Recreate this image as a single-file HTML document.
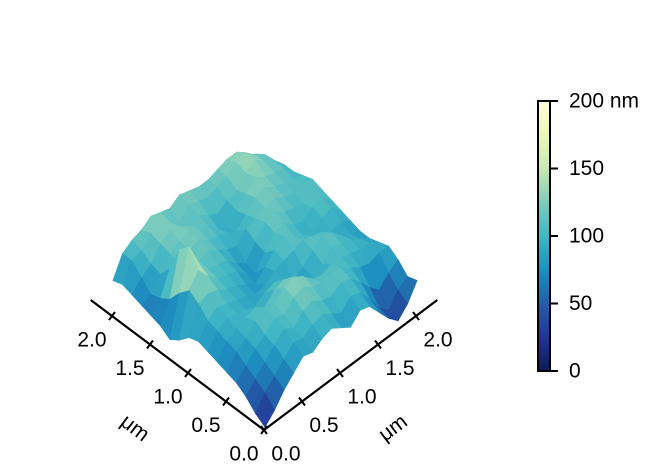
<!DOCTYPE html>
<html><head><meta charset="utf-8"><style>
html,body{margin:0;padding:0;background:#fff;}
svg{display:block;font-family:"Liberation Sans",sans-serif;}
</style></head><body>
<svg id="chart" width="663" height="472" viewBox="0 0 663 472">
<defs>
<linearGradient id="cbar" x1="0" y1="1" x2="0" y2="0">
<stop offset="0" stop-color="#081d58"/><stop offset="0.125" stop-color="#253494"/>
<stop offset="0.25" stop-color="#225ea8"/><stop offset="0.375" stop-color="#1d91c0"/>
<stop offset="0.5" stop-color="#41b6c4"/><stop offset="0.625" stop-color="#7fcdbb"/>
<stop offset="0.75" stop-color="#c7e9b4"/><stop offset="0.875" stop-color="#edf8b1"/>
<stop offset="1" stop-color="#ffffd9"/></linearGradient>
</defs>
<g id="surface"></g>
<g id="axes"></g>
<g>
<rect x="538" y="101" width="12" height="270" fill="url(#cbar)" stroke="#000" stroke-width="2"/>
<g id="cbticks"></g>
</g>
</svg>
<script>
const heights = [
[20,35,55,70,85,80,90,95,85,75,90,85,65,45,30,45,70],
[30,50,65,80,95,90,100,105,95,85,100,95,75,50,35,55,65],
[45,60,75,90,105,95,110,115,105,100,110,105,90,70,55,70,80],
[55,70,85,95,110,105,120,125,115,110,115,110,100,90,85,90,90],
[60,80,90,105,115,110,125,130,120,105,100,105,105,100,95,95,85],
[65,85,95,100,105,95,110,115,105,90,85,95,110,105,100,90,80],
[70,90,100,95,90,85,95,100,90,80,90,105,115,110,95,85,80],
[75,95,105,100,95,90,80,85,95,100,105,110,105,100,90,95,85],
[70,110,115,110,100,95,85,75,90,105,115,105,95,90,100,105,90],
[55,120,140,120,105,100,95,80,70,90,110,115,100,95,105,110,95],
[45,105,165,130,110,105,100,85,75,95,115,120,110,105,100,115,100],
[55,85,150,120,110,115,105,95,90,105,110,115,120,110,105,110,105],
[60,75,110,105,115,120,110,105,100,90,105,120,125,115,110,105,100],
[65,70,90,110,120,125,115,110,95,85,100,115,130,120,115,110,95],
[70,85,95,115,125,120,110,115,105,95,105,110,125,135,120,110,95],
[75,100,105,120,130,115,105,120,115,110,115,120,130,135,120,110,90],
[70,100,110,115,125,120,115,125,120,115,115,120,125,125,110,100,85]
];
const axisTicks = [0.0,0.5,1.0,1.5,2.0];
const axisTickLabels = ["0.0","0.5","1.0","1.5","2.0"];
const cbTicks = [0,50,100,150,200];
const cbTickLabels = ["0","50","100","150","200 nm"];

const NS="http://www.w3.org/2000/svg";
const stops=[[8,29,88],[37,52,148],[34,94,168],[29,145,192],[65,182,196],[127,205,187],[199,233,180],[237,248,177],[255,255,217]];
function cmap(t){t=Math.max(0,Math.min(1,t))*8;const k=Math.min(7,Math.floor(t)),f=t-k;
const a=stops[k],b=stops[k+1];return `rgb(${a.map((v,i)=>Math.round(v+(b[i]-v)*f)).join(',')})`;}
function proj(u,v,h){return [265-76*u+76*v, 440-57*u-57*v-0.65*h];}
const n=heights.length, step=2/(n-1);
const cells=[];
for(let i=0;i<n-1;i++)for(let j=0;j<n-1;j++)cells.push([i,j]);
cells.sort((a,b)=>(b[0]+b[1])-(a[0]+a[1]));
const sg=document.getElementById('surface');
for(const [i,j] of cells){
 const c=[[i,j],[i+1,j],[i+1,j+1],[i,j+1]];
 const pts=c.map(([a,b])=>proj(a*step,b*step,heights[a][b]));
 const avg=c.reduce((s,[a,b])=>s+heights[a][b],0)/4;
 const p=document.createElementNS(NS,'polygon');
 p.setAttribute('points',pts.map(q=>q.join(',')).join(' '));
 p.setAttribute('fill',cmap(avg/200));
 p.setAttribute('stroke',cmap(avg/200));
 p.setAttribute('stroke-width','0.8');
 
 
 sg.appendChild(p);
}
const ag=document.getElementById('axes');
function line(x1,y1,x2,y2,w,name){const l=document.createElementNS(NS,'line');
 l.setAttribute('x1',x1);l.setAttribute('y1',y1);l.setAttribute('x2',x2);l.setAttribute('y2',y2);
 l.setAttribute('stroke','#000');l.setAttribute('stroke-width',w);
 
 
 ag.appendChild(l);}
function text(x,y,s,name,rot,size){const t=document.createElementNS(NS,'text');
 t.setAttribute('x',x);t.setAttribute('y',y);t.setAttribute('text-anchor','middle');
 t.setAttribute('dominant-baseline','central');t.setAttribute('font-size',size||21);
 if(rot)t.setAttribute('transform',`rotate(${rot} ${x} ${y})`);
 t.textContent=s;
 
 
 return t;}
function leftAx(u){return [264-76*u, 430-57*u];}
function rightAx(v){return [264+76*v, 430-57*v];}
line(...leftAx(2.28),...leftAx(0),2.2,'x-axis-line');
line(...rightAx(0),...rightAx(2.28),2.2,'y-axis-line');
axisTicks.forEach((t,k)=>{
 const a=leftAx(t);line(a[0]-3,a[1]+4,a[0]+3,a[1]-4,2,'x-axis-tick');
 ag.appendChild(text(a[0]-20,a[1]+24,axisTickLabels[k],'x-tick-label'));
 const b=rightAx(t);line(b[0]-3,b[1]-4,b[0]+3,b[1]+4,2,'y-axis-tick');
 ag.appendChild(text(b[0]+22,b[1]+24,axisTickLabels[k],'y-tick-label'));
});
ag.appendChild(text(135,428,'μm','x-axis-title',37));
ag.appendChild(text(393,428,'μm','y-axis-title',-37));
const cg=document.getElementById('cbticks');
cbTicks.forEach((v,k)=>{const y=371-270*v/200;
 const l=document.createElementNS(NS,'line');
 l.setAttribute('x1',550);l.setAttribute('x2',558);l.setAttribute('y1',y);l.setAttribute('y2',y);
 l.setAttribute('stroke','#000');l.setAttribute('stroke-width',2);
 
 
 cg.appendChild(l);
 const t=text(569,y,cbTickLabels[k],'colorbar-tick-label');t.setAttribute('text-anchor','start');cg.appendChild(t);
});
</script>
</body></html>
